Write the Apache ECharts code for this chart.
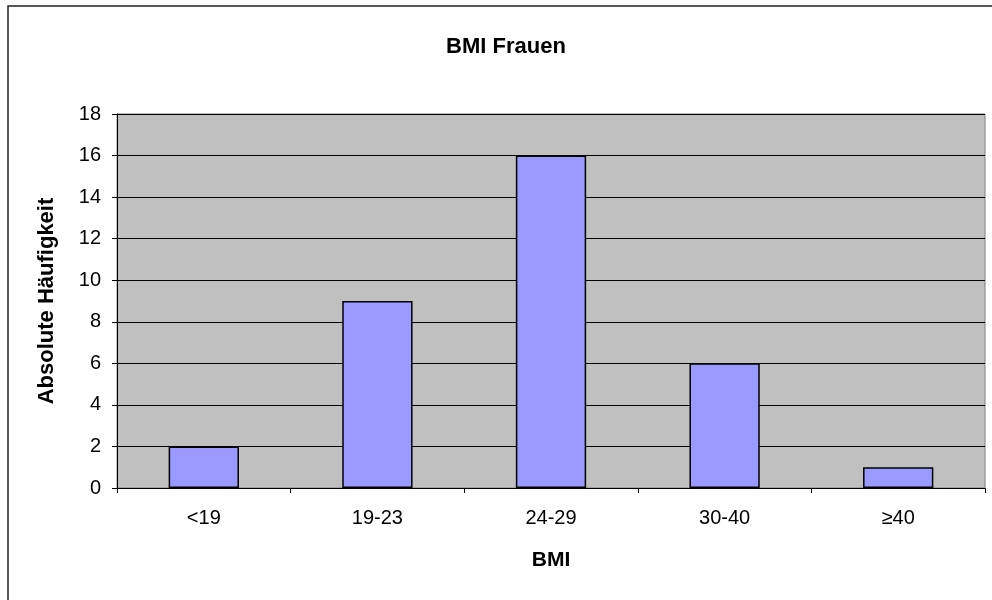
<!DOCTYPE html>
<html><head><meta charset="utf-8">
<script src="https://cdn.jsdelivr.net/npm/echarts@6/dist/echarts.min.js"></script>
<style>html,body{margin:0;padding:0;background:#fff}#c{width:992px;height:600px}</style>
</head><body><div id="c"></div>
<script>
const categories = ['<19', '19-23', '24-29', '30-40', '≥40'];
const values = [2, 9, 16, 6, 1];
const yTicks = [0, 2, 4, 6, 8, 10, 12, 14, 16, 18];
const titleText = 'BMI Frauen';
const xName = 'BMI';
const yName = 'Absolute Häufigkeit';

const chart = echarts.init(document.getElementById('c'), null, {renderer: 'canvas'});
const font = 'Liberation Sans, Arial, sans-serif';
chart.setOption({
  animation: false,
  title: {
    text: titleText, left: 501, top: 31, textAlign: 'center',
    textStyle: {fontFamily: font, fontSize: 22, fontWeight: 'bold', color: '#000'}
  },
  graphic: [{
    type: 'rect', shape: {x: 8, y: 6, width: 1100, height: 1000},
    style: {fill: 'none', stroke: '#222', lineWidth: 1.5}, silent: true, z: 100
  }],
  grid: {
    left: 117, right: 7, top: 114, bottom: 112,
    show: true, backgroundColor: '#C0C0C0', borderColor: '#808080', borderWidth: 1
  },
  xAxis: {
    type: 'category', data: categories,
    name: xName, nameLocation: 'middle', nameGap: 62,
    nameTextStyle: {fontFamily: font, fontSize: 21, fontWeight: 'bold', color: '#000'},
    axisLine: {show: true, lineStyle: {color: '#000', width: 1}},
    axisTick: {show: true, alignWithLabel: false, length: 5, lineStyle: {color: '#000'}},
    axisLabel: {fontFamily: font, fontSize: 20, color: '#000', margin: 20},
    splitLine: {show: false}
  },
  yAxis: {
    type: 'value', min: yTicks[0], max: yTicks[yTicks.length - 1], interval: 2,
    name: yName, nameLocation: 'middle', nameGap: 59, nameRotate: 90,
    nameTextStyle: {fontFamily: font, fontSize: 22, fontWeight: 'bold', color: '#000'},
    axisLine: {show: true, lineStyle: {color: '#000', width: 1}},
    axisTick: {show: true, length: 5, lineStyle: {color: '#000'}},
    axisLabel: {fontFamily: font, fontSize: 20, color: '#000', margin: 16},
    splitLine: {show: true, lineStyle: {color: '#000', width: 1}}
  },
  series: [{
    type: 'bar', data: values, barWidth: '40.5%',
    itemStyle: {color: '#9999FF', borderColor: '#000', borderWidth: 1.5}
  }]
});
</script></body></html>
